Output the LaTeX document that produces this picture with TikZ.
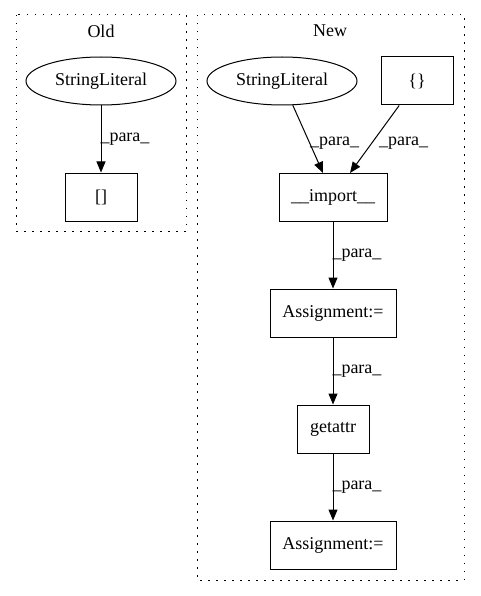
\documentclass[tikz,border=0pt]{standalone}
\usepackage{fontspec}
\setmainfont{Liberation Serif}
\usetikzlibrary{arrows.meta,shapes.geometric}
\begin{document}
\begin{tikzpicture}[x=1pt,y=-1pt,
  every node/.style={font=\fontsize{18pt}{20pt}\selectfont, inner sep=0pt},
  box/.style={draw, line width=1pt, minimum height=48pt},
  ell/.style={draw, line width=1pt, ellipse, minimum width=150pt, minimum height=48pt},
  cluster/.style={draw, line width=1pt, dash pattern=on 1.5pt off 6.5pt},
  edge/.style={draw, line width=1pt, -{Triangle[length=11pt,width=9pt]}},
  lab/.style={anchor=west}]
\useasboundingbox (0,0) rectangle (480,596);
% clusters
\draw[cluster] (16,15) rectangle (186,231);
\node (oldt) at (101,31) {Old};
\draw[cluster] (197,15) rectangle (464,580);
\node (newt) at (330,31) {New};
% Old
\node[ell] (osl) at (101,81) {StringLiteral};
\node[box, minimum width=72pt] (obr) at (101,197) {[]};
\draw[edge] (osl) -- (obr) node[lab, midway, xshift=-1pt] {\_para\_};
% New
\node[ell] (nsl) at (282,81) {StringLiteral};
\node[box, minimum width=72pt] (cb) at (417,81) {\{\}};
\node[box, minimum width=108pt] (imp) at (333,197) {\_\_import\_\_};
\node[box, minimum width=126pt] (as1) at (333,313) {Assignment:=};
\node[box, minimum width=72pt] (ga) at (333,429) {getattr};
\node[box, minimum width=126pt] (as2) at (333,545) {Assignment:=};
\draw[edge] (nsl) -- (323,173);
\node[lab] (l1) at (310,143) {\_para\_};
\draw[edge] (cb) -- (350,173);
\node[lab] (l2) at (379,143) {\_para\_};
\draw[edge] (imp) -- (as1) node[lab, midway, xshift=-1pt] {\_para\_};
\draw[edge] (as1) -- (ga) node[lab, midway, xshift=-1pt] {\_para\_};
\draw[edge] (ga) -- (as2) node[lab, midway, xshift=-1pt] {\_para\_};
\end{tikzpicture}
\end{document}
